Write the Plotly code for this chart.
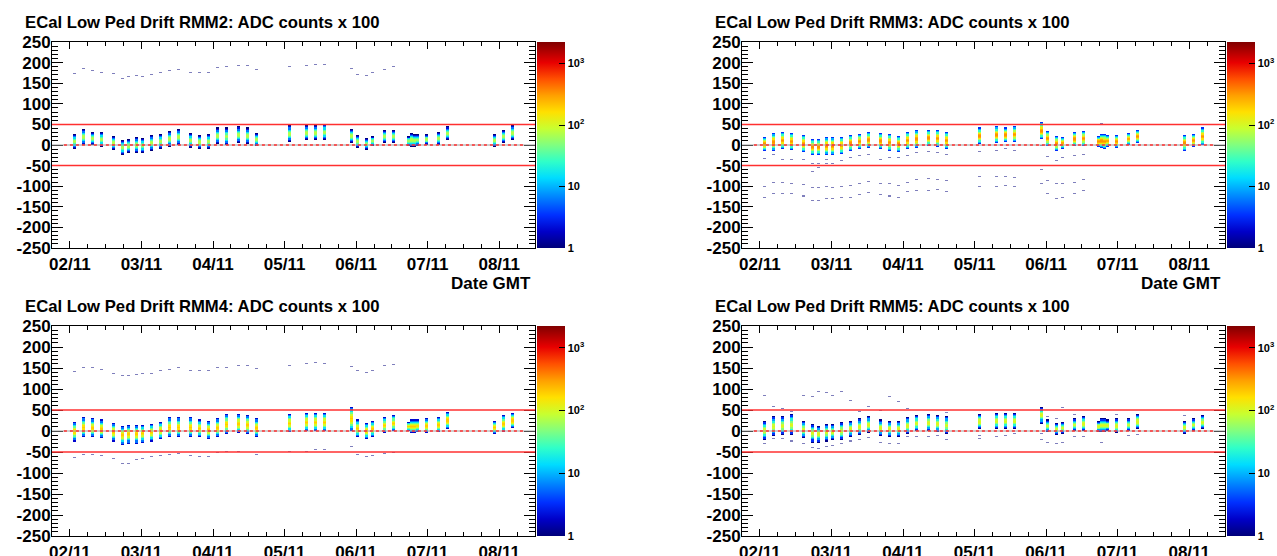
import math
from datetime import datetime, timedelta
import plotly.graph_objects as go

# ---------------- data ----------------
BASE = datetime(2010, 11, 2)          # 02/11 00:00 GMT
X_START = "2010-11-01 18:00"
X_END = "2010-11-08 12:00"
ZERO_START = "2010-11-01 22:00"
ZERO_END = "2010-11-08 08:00"
LIMITS = [50, -50]

# run start hours relative to 02/11 00:00 (1 hour wide bins)
RUN_HOURS = [1, 4, 7, 10, 14, 17, 19, 22, 24, 27, 30, 33, 36, 40, 43, 46, 49, 52, 56, 59, 62,
             73, 79, 82, 85, 94, 96, 99, 101, 105, 108, 113, 114, 115, 116, 119, 123, 126,
             142, 145, 148]

# band top / bottom of the main pedestal distribution, ADC counts x 100
RMM2_TOP = [26, 38, 32, 31, 21, 11, 14, 18, 16, 23, 27, 33, 38, 28, 23, 25, 42, 42, 44, 42, 28,
            45, 46, 46, 49, 39, 24, 16, 22, 35, 37, 22, 29, 27, 25, 26, 32, 43, 26, 35, 45]
RMM2_BOT = [-10, 0, 0, -4, -12, -23, -19, -19, -19, -15, -8, -4, 2, -6, -10, -10, 3, 2, 7, 4, -2,
            8, 13, 13, 14, 5, -7, -12, -2, 5, 5, -2, -5, -3, -2, 0, 2, 13, -3, 5, 13]
RMM3_TOP = [18, 28, 31, 28, 23, 14, 14, 19, 19, 18, 23, 27, 32, 28, 25, 22, 31, 36, 37, 35, 31,
            42, 44, 42, 44, 53, 34, 22, 19, 31, 34, 22, 26, 27, 24, 23, 28, 35, 24, 27, 40]
RMM3_BOT = [-15, -13, -10, -12, -16, -24, -24, -23, -23, -21, -15, -10, -6, -10, -15, -16, -10, -6, -2, -5, -10,
            4, 6, 8, 8, 16, -2, -15, -10, -2, -2, -4, -6, -8, -4, -6, 0, 6, -15, -5, 2]
RMM4_TOP = [20, 31, 28, 27, 19, 11, 13, 13, 13, 17, 22, 31, 32, 30, 26, 23, 28, 38, 38, 35, 28,
            39, 42, 42, 42, 56, 27, 19, 23, 32, 35, 22, 26, 27, 26, 28, 32, 43, 24, 35, 42]
RMM4_BOT = [-23, -15, -15, -17, -24, -32, -29, -28, -27, -24, -19, -15, -13, -15, -15, -19, -13, -6, -3, -6, -13,
            -2, 1, 1, 1, 0, -13, -19, -15, -3, 1, 0, -3, -3, -2, -3, -1, 5, -6, -1, 9]
RMM5_TOP = [23, 33, 33, 39, 23, 15, 11, 15, 17, 21, 23, 28, 33, 27, 24, 23, 32, 37, 39, 37, 34,
            39, 41, 42, 42, 55, 25, 18, 22, 29, 33, 24, 29, 28, 26, 29, 29, 39, 23, 29, 37]
RMM5_BOT = [-22, -11, -9, -9, -17, -26, -26, -24, -21, -21, -15, -9, -3, -11, -14, -15, -7, 1, 1, -1, -6,
            5, 5, 7, 5, 18, -1, -9, -6, 1, 1, -1, -2, -1, 0, -3, 2, 5, -6, 2, 5]

PEAK = {"RMM2": 75, "RMM3": 330, "RMM4": 200, "RMM5": 110}
# bin content along a column, bottom -> top, as a fraction of the peak
PROFILE = [0.01, 0.03, 0.08, 0.2, 0.45, 0.8, 1.0, 0.8, 0.45, 0.2, 0.08, 0.03, 0.01]

# isolated single-entry bins (run hour, y)
RMM2_OUT_H = [1, 4, 7, 10, 14, 17, 19, 22, 24, 27, 30, 33, 36, 40, 43, 46, 49, 52, 56, 59, 62,
              73, 79, 82, 85, 94, 96, 99, 101, 105, 108]
RMM2_OUT_Y = [173, 185, 181, 177, 173, 162, 166, 169, 167, 172, 175, 182, 184, 177, 175, 177, 188, 190, 193, 193, 184,
              190, 193, 196, 197, 186, 171, 169, 177, 184, 192]

RMM3_OUT_H = [1, 1, 1, 4, 4, 4, 7, 7, 7, 10, 10, 10, 14, 14, 14, 14, 17, 17, 17, 17, 19, 19, 19, 19,
              22, 22, 22, 22, 24, 24, 24, 24, 27, 27, 27, 30, 30, 30, 33, 33, 33, 36, 36, 36,
              40, 40, 40, 43, 43, 43, 46, 46, 46, 49, 49, 49, 52, 52, 52, 56, 56, 56, 59, 59, 59,
              62, 62, 62, 73, 73, 73, 79, 79, 79, 82, 82, 82, 85, 85, 85, 94, 94, 94,
              96, 96, 96, 99, 99, 99, 101, 101, 101, 105, 105, 105, 108, 108, 108, 114]
RMM3_OUT_Y = [-35, -102, -127, -24, -91, -119, -37, -91, -119, -37, -93, -119, -37, -48, -97, -123,
              -43, -65, -105, -133, -43, -55, -105, -133, -37, -45, -102, -130, -43, -49, -103, -130,
              -39, -102, -127, -31, -99, -126, -27, -94, -121, -23, -90, -117, -37, -93, -121,
              -31, -95, -123, -31, -99, -126, -27, -91, -113, -19, -85, -111, -17, -81, -111,
              -19, -83, -110, -25, -86, -115, -16, -77, -102, -15, -77, -101, -9, -77, -98,
              -15, -78, -101, -1, -59, -95, -29, -86, -119, -39, -93, -129, -31, -93, -126,
              -27, -91, -119, -23, -85, -111, 52]

RMM4_OUT_H = [1, 4, 7, 10, 14, 17, 19, 22, 24, 27, 30, 33, 36, 40, 43, 46, 49, 52, 56, 59, 62,
              73, 79, 82, 85, 94, 96, 99, 101, 105, 108,
              1, 4, 7, 10, 14, 17, 19, 22, 24, 27, 30, 33, 36, 40, 43, 46, 49, 52, 56, 62,
              73, 79, 82, 85, 94, 96, 99, 101, 105, 108]
RMM4_OUT_Y = [141, 152, 150, 145, 135, 131, 131, 133, 135, 136, 143, 146, 152, 144, 143, 143, 152, 152, 157, 157, 148,
              156, 162, 164, 162, 154, 143, 139, 144, 156, 158,
              -65, -56, -56, -58, -66, -76, -76, -70, -66, -62, -60, -56, -54, -58, -62, -62, -52, -48, -48, -56,
              -48, -50, -45, -45, -37, -57, -62, -60, -53, -52]

RMM5_OUT_H = [1, 1, 4, 4, 7, 7, 10, 10, 14, 14, 17, 17, 19, 19, 22, 22, 24, 24, 27, 27, 30, 30,
              33, 33, 36, 36, 40, 40, 43, 43, 46, 46, 49, 49, 52, 56, 59, 62, 62, 73, 73, 79, 82, 85,
              94, 94, 96, 96, 99, 99, 101, 101, 105, 105, 108, 114, 119, 123, 126, 142]
RMM5_OUT_Y = [84, -28, 59, -20, 54, -20, 46, -24, 84, -28, 80, -38, 94, -41, 90, -37, 84, -33, 93, -28, 74, -24,
              47, -21, 58, -17, 48, -26, 80, -28, 70, -30, 54, -15, -15, -13, -11, 43, -22, -11, -19, -13, -11, -7,
              -7, -21, 34, -27, 29, -30, 56, -26, 38, -15, -15, -26, 38, -11, -9, 35]

PANELS = [
    ("RMM2", RMM2_TOP, RMM2_BOT, RMM2_OUT_H, RMM2_OUT_Y),
    ("RMM3", RMM3_TOP, RMM3_BOT, RMM3_OUT_H, RMM3_OUT_Y),
    ("RMM4", RMM4_TOP, RMM4_BOT, RMM4_OUT_H, RMM4_OUT_Y),
    ("RMM5", RMM5_TOP, RMM5_BOT, RMM5_OUT_H, RMM5_OUT_Y),
]
SHOW_XTITLE = [True, True, False, False]   # bottom-row axis titles fall below the page

# ---------------- binning ----------------
H0, NX = -6, 162          # hour bins covering the axis range
Y0, DY, NY = -250.0, 2.5, 200
ZMAX = math.log10(2240)

x_centers = [BASE + timedelta(hours=H0 + i + 0.5) for i in range(NX)]
y_centers = [Y0 + DY * (k + 0.5) for k in range(NY)]


def ybin(v):
    return max(0, min(NY - 1, int((v - Y0) // DY)))


def build(name, top, bot, oh, oy):
    zb = [[None] * NX for _ in range(NY)]
    zo = [[None] * NX for _ in range(NY)]
    peak = PEAK[name]
    for h, t, b in zip(RUN_HOURS, top, bot):
        col = h - H0
        k0, k1 = ybin(b), ybin(t)
        n = k1 - k0 + 1
        for j in range(n):
            p = PROFILE[round(j * (len(PROFILE) - 1) / max(1, n - 1))]
            zb[k0 + j][col] = math.log10(max(1.0, peak * p))
    for h, v in zip(oh, oy):
        k = ybin(v)
        if zb[k][h - H0] is None:
            zo[k][h - H0] = 0.0
    return zb, zo


CS = [[0.0, '#00007a'], [0.08, '#0000c8'], [0.16, '#0030ff'], [0.26, '#0090ff'], [0.34, '#00dcff'],
      [0.42, '#30ffc8'], [0.5, '#80ff80'], [0.58, '#c8ff30'], [0.66, '#ffe000'], [0.74, '#ffa000'],
      [0.82, '#ff5000'], [0.9, '#e80000'], [1.0, '#800000']]

W, H = 1277, 556
FRAMES = [  # left, right, top, bottom (px)
    (52, 535, 42, 248),
    (742, 1225, 42, 248),
    (52, 535, 326, 536),
    (742, 1225, 326, 536),
]
CB_W = 28

FONT = "Liberation Sans, Arial, sans-serif"

cb_major = [0, 1, 2, 3]
cb_text = ["1", "10", "10<sup>2</sup>", "10<sup>3</sup>"]
cb_minor = [d + math.log10(m) for d in range(4) for m in range(2, 10) if d + math.log10(m) <= ZMAX]

fig = go.Figure()
layout = dict(width=W, height=H, margin=dict(l=0, r=0, t=0, b=0, autoexpand=False),
              paper_bgcolor="white", plot_bgcolor="white", showlegend=False,
              shapes=[], annotations=[])

for i, (name, top, bot, oh, oy) in enumerate(PANELS):
    L, R, T, B = FRAMES[i]
    xa = "x" if i == 0 else "x%d" % (i + 1)
    ya = "y" if i == 0 else "y%d" % (i + 1)
    zb, zo = build(name, top, bot, oh, oy)
    fig.add_trace(go.Heatmap(
        x=x_centers, y=y_centers, z=zo, colorscale=CS, zmin=0, zmax=ZMAX,
        showscale=False, opacity=0.5, xaxis=xa, yaxis=ya, hoverinfo="skip"))
    fig.add_trace(go.Heatmap(
        x=x_centers, y=y_centers, z=zb, colorscale=CS, zmin=0, zmax=ZMAX,
        xaxis=xa, yaxis=ya, hoverinfo="skip",
        colorbar=dict(x=(R + 2) / W, xanchor="left", xpad=0, ypad=0,
                      y=1 - (T + B) / 2 / H, yanchor="middle", len=(B - T) / H, lenmode="fraction",
                      thickness=CB_W, outlinewidth=0,
                      tickmode="array", tickvals=cb_major, ticktext=cb_text,
                      ticks="inside", ticklen=6, tickcolor="black",
                      tickfont=dict(family=FONT, size=11, color="black", weight="bold"))))
    # minor log ticks of the palette axis
    for v in cb_minor:
        yp = 1 - B / H + (v / ZMAX) * (B - T) / H
        layout["shapes"].append(dict(type="line", xref="paper", yref="paper",
                                     x0=(R + 2 + CB_W - 3.5) / W, x1=(R + 2 + CB_W) / W, y0=yp, y1=yp,
                                     line=dict(color="black", width=1)))

    axis_common = dict(showline=True, linecolor="black", linewidth=1, mirror="allticks", automargin=False,
                       ticks="inside", tickcolor="black", tickwidth=1, showgrid=False, zeroline=False,
                       tickfont=dict(family=FONT, size=17, color="black", weight="bold"))
    layout["xaxis" if i == 0 else "xaxis%d" % (i + 1)] = dict(
        axis_common, type="date", range=[X_START, X_END], domain=[L / W, R / W],
        anchor=ya, tick0="2010-11-02", dtick=86400000, tickformat="%d/%m", ticklen=7,
        ticklabelstandoff=1,
        minor=dict(dtick=21600000, ticklen=4, ticks="inside", tickcolor="black", showgrid=False))
    yv = list(range(-250, 251, 50))
    layout["yaxis" if i == 0 else "yaxis%d" % (i + 1)] = dict(
        axis_common, range=[-250, 250], domain=[1 - B / H, 1 - T / H], anchor=xa,
        tickmode="array", tickvals=yv, ticktext=[("-%d" % -v) if v < 0 else str(v) for v in yv],
        ticklen=11, ticklabelstandoff=-3,
        minor=dict(dtick=10, ticklen=6, ticks="inside", tickcolor="black", showgrid=False))

    # reference lines
    for lim in LIMITS:
        layout["shapes"].append(dict(type="line", xref=xa, yref=ya, x0=X_START, x1=X_END, y0=lim, y1=lim,
                                     line=dict(color="#ff3030", width=1.5)))
    layout["shapes"].append(dict(type="line", xref=xa, yref=ya, x0=X_START, x1=X_END, y0=0, y1=0,
                                 line=dict(color="#a0a0a0", width=1)))
    layout["shapes"].append(dict(type="line", xref=xa, yref=ya, x0=ZERO_START, x1=ZERO_END, y0=0, y1=0,
                                 line=dict(color="#ff3030", width=1.5, dash="dot")))

    # titles
    layout["annotations"].append(dict(
        text="ECal Low Ped Drift %s: ADC counts x 100" % name, xref="paper", yref="paper",
        x=(L - 29) / W, y=1 - (T - 19.5) / H, xanchor="left", yanchor="middle", showarrow=False,
        font=dict(family=FONT, size=16.7, color="black", weight="bold")))
    if SHOW_XTITLE[i]:
        layout["annotations"].append(dict(
            text="Date GMT", xref="paper", yref="paper",
            x=(R - 2) / W, y=1 - (B + 35.5) / H, xanchor="right", yanchor="middle", showarrow=False,
            font=dict(family=FONT, size=17, color="black", weight="bold")))

fig.update_layout(**layout)
fig.write_html("out.html", config={"displayModeBar": False},
               post_script="document.body.style.margin='0';")
